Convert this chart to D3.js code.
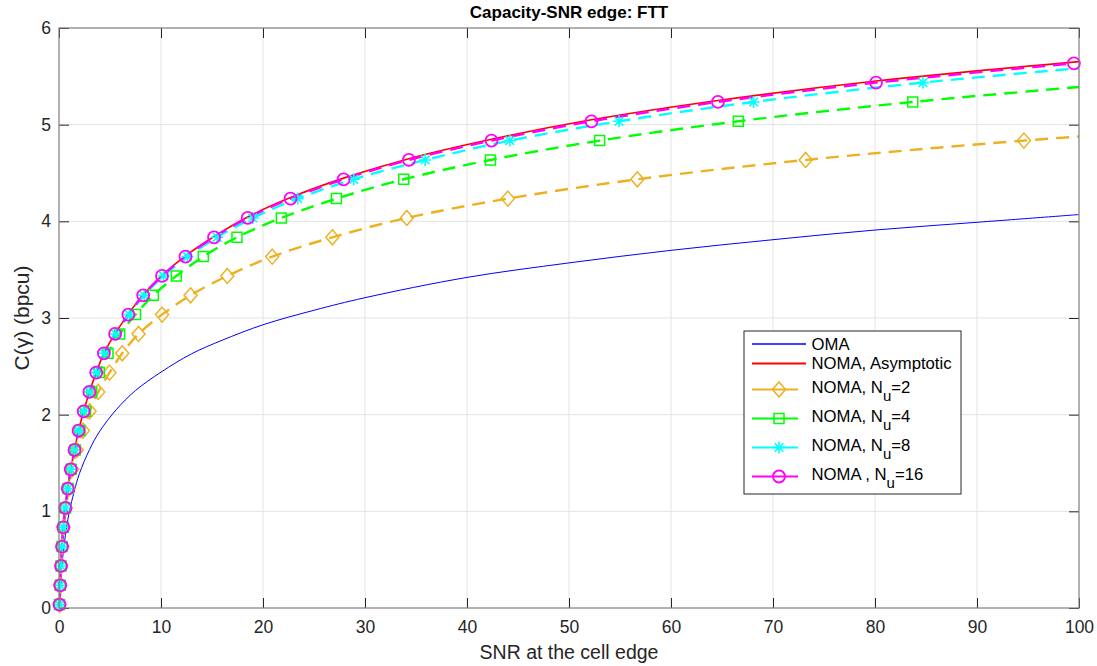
<!DOCTYPE html>
<html>
<head>
<meta charset="utf-8">
<script src="https://cdn.jsdelivr.net/npm/d3@7"></script>
<style>
  html, body { margin: 0; padding: 0; background: #fff; }
  svg { display: block; font-family: "Liberation Sans", Arial, Helvetica, sans-serif; }
</style>
</head>
<body>
<svg id="chart" width="1097" height="666"></svg>
<script>
// Capacity levels at which the NOMA curves are sampled (bpcu)
const capacityLevels = [0.035, 0.235, 0.435, 0.635, 0.835, 1.035, 1.235, 1.435, 1.635, 1.835,
  2.035, 2.235, 2.435, 2.635, 2.835, 3.035, 3.235, 3.435, 3.635, 3.835,
  4.035, 4.235, 4.435, 4.635, 4.835, 5.035, 5.235, 5.435, 5.635];

// Edge SNR needed to reach each capacity level, per number of users
const snrNu2 = [0.05, 0.12, 0.21, 0.32, 0.46, 0.68, 0.95, 1.3, 1.75, 2.35,
  3.0, 3.85, 4.95, 6.2, 7.8, 10.1, 12.9, 16.5, 20.9, 26.8,
  34.1, 44.0, 56.7, 73.2, 94.6, 122];
const snrNu4 = [0.05, 0.12, 0.2, 0.3, 0.43, 0.64, 0.89, 1.2, 1.6, 2.05,
  2.6, 3.2, 3.95, 4.8, 5.95, 7.5, 9.25, 11.5, 14.15, 17.45,
  21.8, 27.2, 33.8, 42.3, 53.0, 66.6, 83.7, 105];
const snrNu8 = [0.05, 0.12, 0.2, 0.3, 0.42, 0.62, 0.87, 1.16, 1.53, 1.94,
  2.44, 3.0, 3.68, 4.45, 5.55, 6.9, 8.35, 10.25, 12.6, 15.5,
  19.0, 23.4, 28.9, 35.9, 44.2, 54.9, 68.1, 84.7, 105.5];
const snrNu16 = [0.05, 0.12, 0.2, 0.3, 0.42, 0.62, 0.86, 1.15, 1.52, 1.92,
  2.42, 2.98, 3.65, 4.4, 5.5, 6.8, 8.25, 10.1, 12.4, 15.2,
  18.5, 22.7, 27.9, 34.3, 42.4, 52.2, 64.6, 80.1, 99.5];

// Asymptotic NOMA capacity
const asymSnr = [0, 0.05, 0.12, 0.2, 0.3, 0.42, 0.62, 0.86, 1.15, 1.52, 1.92, 2.42, 2.98, 3.65, 4.4,
  5.5, 6.8, 8.25, 10.1, 12.4, 15.2, 18.5, 22.7, 27.9, 34.3, 42.4, 52.2, 64.6, 80.1, 100];
const asymCap = [0, 0.035, 0.235, 0.435, 0.635, 0.835, 1.035, 1.235, 1.435, 1.635, 1.835, 2.035, 2.235, 2.435, 2.635,
  2.838, 3.04, 3.24, 3.44, 3.642, 3.843, 4.045, 4.246, 4.447, 4.648, 4.849, 5.05, 5.25, 5.452, 5.652];

// OMA capacity
const omaSnr = [0, 0.1, 0.25, 0.5, 0.75, 1, 1.5, 2, 3, 4, 5.6, 7.5, 10, 13, 16, 20, 25, 30, 40, 50, 60, 70, 80, 90, 100];
const omaCap = [0, 0.19, 0.4, 0.65, 0.84, 0.99, 1.21, 1.39, 1.64, 1.83, 2.05, 2.25, 2.44, 2.63, 2.77, 2.93,
  3.08, 3.21, 3.42, 3.57, 3.7, 3.81, 3.91, 3.99, 4.07];

// Axis ticks
const xTicks = [0, 10, 20, 30, 40, 50, 60, 70, 80, 90, 100];
const yTicks = [0, 1, 2, 3, 4, 5, 6];

// Legend labels: [text, subscript, text after subscript]
const legendLabels = [
  ["OMA", "", ""],
  ["NOMA, Asymptotic", "", ""],
  ["NOMA, N", "u", "=2"],
  ["NOMA, N", "u", "=4"],
  ["NOMA, N", "u", "=8"],
  ["NOMA , N", "u", "=16"]
];

const svg = d3.select("#chart");
const plot = { left: 59, top: 28, right: 1079, bottom: 608 };

const x = d3.scaleLinear().domain([0, 100]).range([plot.left, plot.right]);
const y = d3.scaleLinear().domain([0, 6]).range([plot.bottom, plot.top]);

svg.append("defs").append("clipPath").attr("id", "plotClip")
  .append("rect")
  .attr("x", plot.left).attr("y", plot.top)
  .attr("width", plot.right - plot.left).attr("height", plot.bottom - plot.top);

// Grid
const grid = svg.append("g");
grid.selectAll(".gx").data(xTicks.slice(1, -1)).join("line")
  .attr("x1", d => x(d)).attr("x2", d => x(d))
  .attr("y1", plot.top).attr("y2", plot.bottom)
  .attr("stroke", "#e3e3e3").attr("stroke-width", 1);
grid.selectAll(".gy").data(yTicks.slice(1, -1)).join("line")
  .attr("y1", d => y(d)).attr("y2", d => y(d))
  .attr("x1", plot.left).attr("x2", plot.right)
  .attr("stroke", "#e3e3e3").attr("stroke-width", 1);

// Axes (inward ticks on all four sides)
const tickLen = 10;
const fmt = d3.format("d");
const axisBottom = d3.axisBottom(x).tickValues(xTicks).tickSize(-tickLen).tickPadding(13).tickFormat(fmt);
const axisLeft = d3.axisLeft(y).tickValues(yTicks).tickSize(-tickLen).tickPadding(8).tickFormat(fmt);
const axisTop = d3.axisTop(x).tickValues(xTicks).tickSize(-tickLen).tickFormat("");
const axisRight = d3.axisRight(y).tickValues(yTicks).tickSize(-tickLen).tickFormat("");

function styleAxis(g) {
  g.select(".domain").remove();
  g.selectAll(".tick line").attr("stroke", "#262626").attr("stroke-width", 1);
  g.selectAll(".tick text").attr("fill", "#262626")
    .style("font-size", "17.5px").style("font-family", "'Liberation Sans', Arial, sans-serif");
}
svg.append("g").attr("transform", `translate(0,${plot.bottom})`).call(axisBottom).call(styleAxis);
svg.append("g").attr("transform", `translate(${plot.left},0)`).call(axisLeft).call(styleAxis);
svg.append("g").attr("transform", `translate(0,${plot.top})`).call(axisTop).call(styleAxis);
svg.append("g").attr("transform", `translate(${plot.right},0)`).call(axisRight).call(styleAxis);

// Series definitions
const asymPts = asymSnr.map((s, i) => [s, asymCap[i]]);
const omaPts = omaSnr.map((s, i) => [s, omaCap[i]]);
const toPts = snr => snr.map((s, i) => [s, capacityLevels[i]]);

const series = [
  { name: "oma", pts: omaPts, color: "#0000ff", width: 1, dash: null, marker: null },
  { name: "asym", pts: asymPts, color: "#ff0000", width: 1.6, dash: null, marker: null },
  { name: "nu2", pts: toPts(snrNu2), color: "#EDB120", width: 2.4, dash: "13,8", marker: "diamond" },
  { name: "nu4", pts: toPts(snrNu4), color: "#00ff00", width: 2.4, dash: "13,8", marker: "square" },
  { name: "nu8", pts: toPts(snrNu8), color: "#00ffff", width: 2.4, dash: "13,8", marker: "asterisk" },
  { name: "nu16", pts: toPts(snrNu16), color: "#ff00ff", width: 2.4, dash: "13,8", marker: "circle" }
];

const line = d3.line().x(d => x(d[0])).y(d => y(d[1])).curve(d3.curveCatmullRom.alpha(0.5));

const linesG = svg.append("g").attr("clip-path", "url(#plotClip)");

// Marker shapes centred on (0,0)
function drawMarker(g, type, color) {
  if (type === "circle") {
    g.append("circle").attr("r", 6).attr("fill", "none").attr("stroke", color).attr("stroke-width", 1.8);
    return;
  }
  let d = "";
  if (type === "diamond") d = "M0,-7.5L6.5,0L0,7.5L-6.5,0Z";
  else if (type === "square") d = "M-5,-5H5V5H-5Z";
  else if (type === "asterisk") d = "M-6,0H6M0,-6V6M-4.3,-4.3L4.3,4.3M-4.3,4.3L4.3,-4.3";
  g.append("path").attr("d", d).attr("fill", "none")
    .attr("stroke", color).attr("stroke-width", type === "asterisk" ? 1.6 : 1.5);
}

series.forEach(s => {
  linesG.append("path")
    .datum(s.pts)
    .attr("d", line)
    .attr("fill", "none")
    .attr("stroke", s.color)
    .attr("stroke-width", s.width)
    .attr("stroke-dasharray", s.dash)
    .attr("stroke-linejoin", "round");
  if (s.marker) {
    const mg = svg.append("g");
    s.pts.filter(d => d[0] <= 100 && d[1] <= 6).forEach(d => {
      const g = mg.append("g").attr("transform", `translate(${x(d[0])},${y(d[1])})`);
      drawMarker(g, s.marker, s.color);
    });
  }
});

// Box
svg.append("rect")
  .attr("x", plot.left).attr("y", plot.top)
  .attr("width", plot.right - plot.left).attr("height", plot.bottom - plot.top)
  .attr("fill", "none").attr("stroke", "#7d7d7d").attr("stroke-width", 1.2);

// Title and axis labels
svg.append("text")
  .attr("x", (plot.left + plot.right) / 2).attr("y", 18)
  .attr("text-anchor", "middle")
  .style("font-size", "17px").style("font-weight", "bold").attr("fill", "#000")
  .text("Capacity-SNR edge: FTT");

svg.append("text")
  .attr("x", (plot.left + plot.right) / 2).attr("y", 659)
  .attr("text-anchor", "middle")
  .style("font-size", "19.5px").attr("fill", "#262626")
  .text("SNR at the cell edge");

svg.append("text")
  .attr("transform", `translate(29,${(plot.top + plot.bottom) / 2}) rotate(-90)`)
  .attr("text-anchor", "middle")
  .style("font-size", "21px").attr("fill", "#262626")
  .text("C(γ) (bpcu)");

// Legend
const legend = { x: 744, y: 331, w: 217, h: 163 };
const lg = svg.append("g");
lg.append("rect")
  .attr("x", legend.x).attr("y", legend.y).attr("width", legend.w).attr("height", legend.h)
  .attr("fill", "#fff").attr("stroke", "#262626").attr("stroke-width", 1);

const rowCenters = [344, 363.5, 389.5, 418.5, 447.5, 476.5];
series.forEach((s, i) => {
  const cy = rowCenters[i];
  lg.append("line")
    .attr("x1", 752).attr("x2", s.marker ? 798 : 806)
    .attr("y1", cy).attr("y2", cy)
    .attr("stroke", s.color).attr("stroke-width", s.marker ? 2 : (i === 0 ? 1.5 : 2));
  if (s.marker) {
    const g = lg.append("g").attr("transform", `translate(779,${cy})`);
    drawMarker(g, s.marker, s.color);
  }
  const lab = legendLabels[i];
  const t = lg.append("text")
    .attr("x", 811.5).attr("y", cy + (lab[1] ? 3.5 : 5.5))
    .style("font-size", "16.7px").attr("fill", "#000");
  t.append("tspan").text(lab[0]);
  if (lab[1]) {
    t.append("tspan").attr("dy", 7.5).style("font-size", "15px").text(lab[1]);
    t.append("tspan").attr("dy", -7.5).text(lab[2]);
  }
});
</script>
</body>
</html>
